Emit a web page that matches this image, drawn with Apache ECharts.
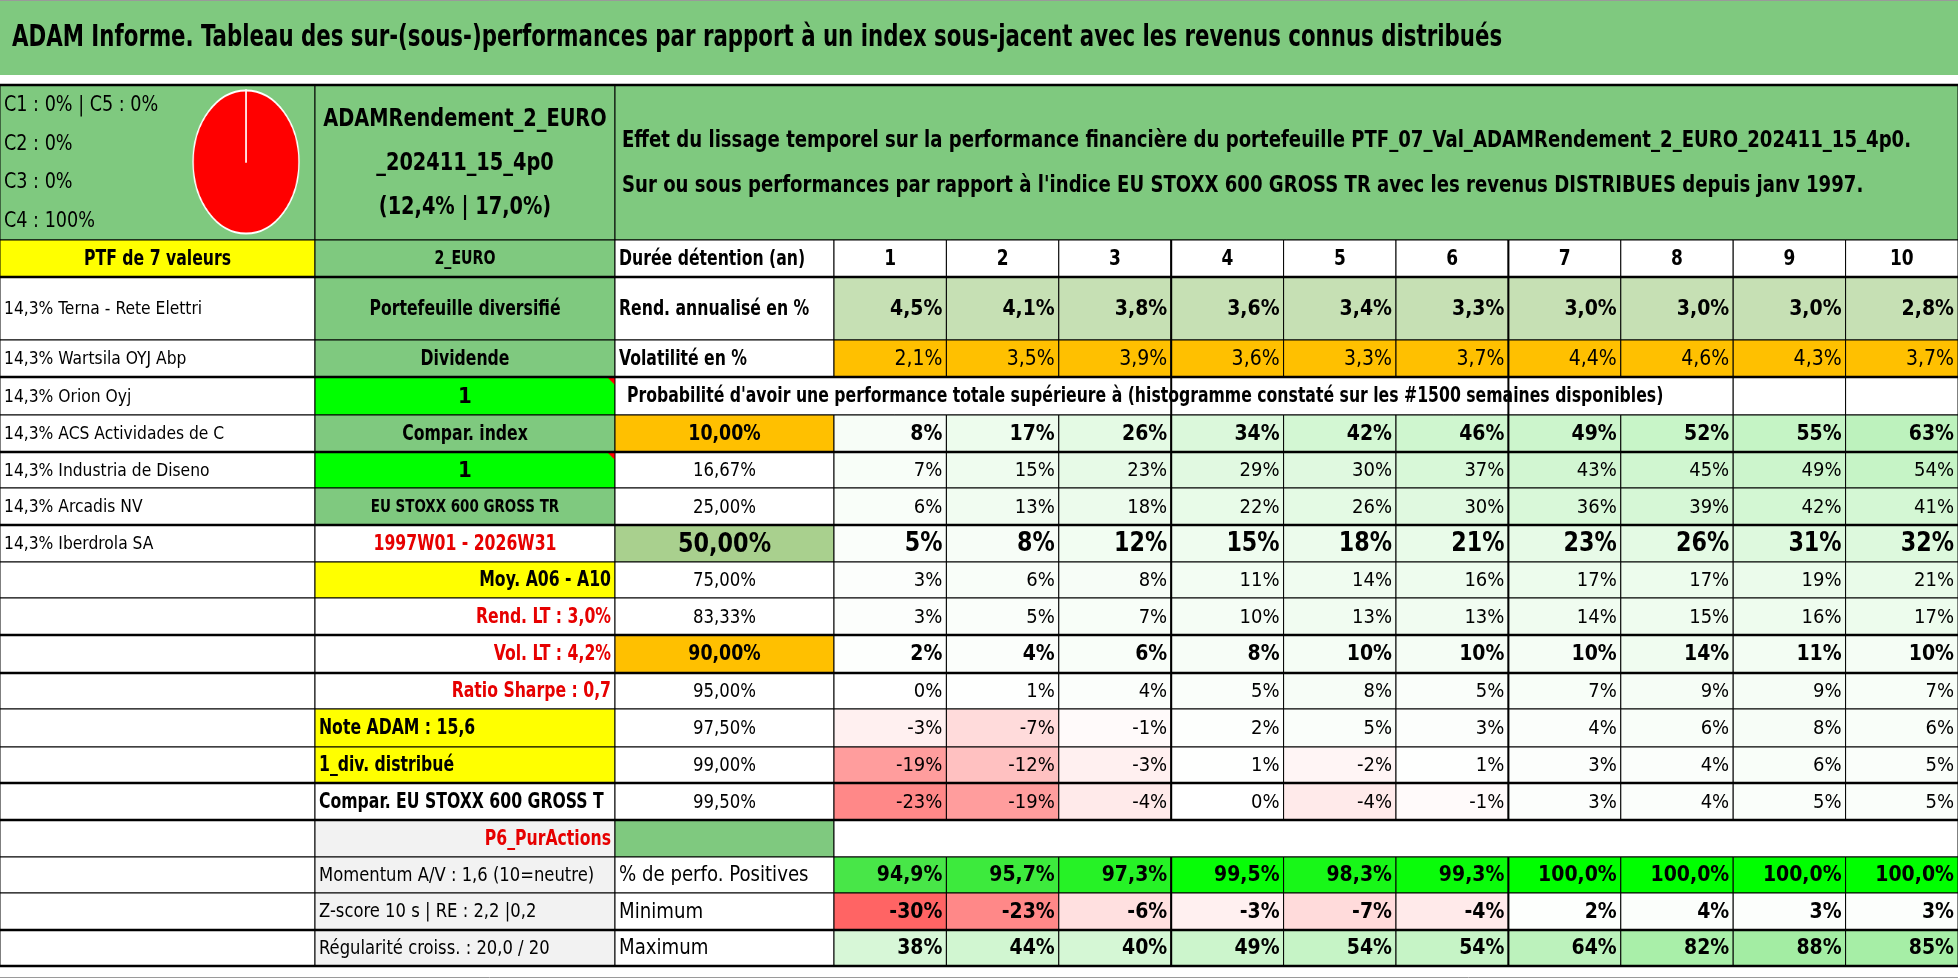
<!DOCTYPE html>
<html>
<head>
<meta charset="utf-8">
<title>ADAM Informe</title>
<script src="https://cdn.jsdelivr.net/npm/echarts@6/dist/echarts.min.js"></script>
<style>
html, body { margin: 0; padding: 0; background: #fff; }
#main { width: 1958px; height: 979px; position: absolute; left: 0; top: 0; }
#pie { position: absolute; width: 146px; height: 146px; left: 173px; top: 89px;
       transform: scaleX(0.74); transform-origin: 50% 50%; }
</style>
</head>
<body>
<div id="main"></div>
<div id="pie"></div>
<script>
// ---- donnees ----
var titre = 'ADAM Informe. Tableau des sur-(sous-)performances par rapport à un index sous-jacent avec les revenus connus distribués';
var pieLabels = ['C1', 'C2', 'C3', 'C4', 'C5'];
var pieValues = [0, 0, 0, 100, 0];
var nomPortefeuille = ['ADAMRendement_2_EURO', '_202411_15_4p0', '(12,4% | 17,0%)'];
var descriptif = [
    'Effet du lissage temporel sur la performance financière du portefeuille PTF_07_Val_ADAMRendement_2_EURO_202411_15_4p0.',
    "Sur ou sous performances par rapport à l'indice EU STOXX 600 GROSS TR avec les revenus DISTRIBUES depuis janv 1997."
];
var enteteValeurs = 'PTF de 7 valeurs';
var valeurs = ['14,3% Terna - Rete Elettri', '14,3% Wartsila OYJ Abp', '14,3% Orion Oyj',
    '14,3% ACS Actividades de C', '14,3% Industria de Diseno', '14,3% Arcadis NV', '14,3% Iberdrola SA'];
var infosB = ['2_EURO', 'Portefeuille diversifié', 'Dividende', '1', 'Compar. index', '1',
    'EU STOXX 600 GROSS TR', '1997W01 - 2026W31', 'Moy. A06 - A10', 'Rend. LT : 3,0%',
    'Vol. LT : 4,2%', 'Ratio Sharpe : 0,7', 'Note ADAM : 15,6', '1_div. distribué',
    'Compar. EU STOXX 600 GROSS TR', 'P6_PurActions', 'Momentum A/V : 1,6 (10=neutre)',
    'Z-score 10 s | RE : 2,2 |0,2', 'Régularité croiss. : 20,0 / 20'];
var libelleDuree = 'Durée détention (an)';
var durees = ['1', '2', '3', '4', '5', '6', '7', '8', '9', '10'];
var libelleRend = 'Rend. annualisé en %';
var rendAnnualise = [4.5, 4.1, 3.8, 3.6, 3.4, 3.3, 3.0, 3.0, 3.0, 2.8];
var libelleVol = 'Volatilité en %';
var volatilite = [2.1, 3.5, 3.9, 3.6, 3.3, 3.7, 4.4, 4.6, 4.3, 3.7];
var libelleProba = "Probabilité d'avoir une performance totale supérieure à (histogramme constaté sur les #1500 semaines disponibles)";
var seuils = ['10,00%', '16,67%', '25,00%', '50,00%', '75,00%', '83,33%', '90,00%', '95,00%', '97,50%', '99,00%', '99,50%'];
var probas = [
    [8, 17, 26, 34, 42, 46, 49, 52, 55, 63],
    [7, 15, 23, 29, 30, 37, 43, 45, 49, 54],
    [6, 13, 18, 22, 26, 30, 36, 39, 42, 41],
    [5, 8, 12, 15, 18, 21, 23, 26, 31, 32],
    [3, 6, 8, 11, 14, 16, 17, 17, 19, 21],
    [3, 5, 7, 10, 13, 13, 14, 15, 16, 17],
    [2, 4, 6, 8, 10, 10, 10, 14, 11, 10],
    [0, 1, 4, 5, 8, 5, 7, 9, 9, 7],
    [-3, -7, -1, 2, 5, 3, 4, 6, 8, 6],
    [-19, -12, -3, 1, -2, 1, 3, 4, 6, 5],
    [-23, -19, -4, 0, -4, -1, 3, 4, 5, 5]
];
var libelleStats = ['% de perfo. Positives', 'Minimum', 'Maximum'];
var perfPositives = [94.9, 95.7, 97.3, 99.5, 98.3, 99.3, 100.0, 100.0, 100.0, 100.0];
var minimum = [-30, -23, -6, -3, -7, -4, 2, 4, 3, 3];
var maximum = [38, 44, 40, 49, 54, 54, 64, 82, 88, 85];

// ---- mise en page ----
var W = 1958, H = 979;
var FF = '"DejaVu Sans Condensed", "DejaVu Sans", sans-serif';
var VERT = '#7fc97f', JAUNE = '#ffff00', FLUO = '#00ff00', ORANGE = '#ffc000';
var ROUGE = '#e60000', GRIS = '#f2f2f2';
var colEdges = [0, 315, 615, 834];
for (var i = 1; i <= 10; i++) colEdges.push(834 + i * 112.4);
var rowEdges = [85, 240, 277, 340, 377, 415, 452, 488, 525, 562, 598, 635, 673, 709, 747, 783, 820, 857, 893, 930, 966];
var thickRows = [0, 2, 4, 6, 8, 11, 12, 15, 16, 19, 20];

function pct1(v) { return v.toFixed(1).replace('.', ',') + '%'; }
function pct0(v) { return Math.round(v) + '%'; }
function mix(a, b, t) {
    t = Math.max(0, Math.min(1, t));
    return 'rgb(' + [0, 1, 2].map(function (k) { return Math.round(a[k] + (b[k] - a[k]) * t); }).join(',') + ')';
}
function couleurProba(v) {
    if (v < 0) return mix([255, 255, 255], [255, 100, 100], -v / 30);
    return mix([255, 255, 255], [150, 235, 150], v / 100);
}
function couleurPositif(v) { return mix([85, 225, 85], [0, 255, 0], (v - 94) / 6); }

var cells = [];
function cell(c0, c1, r0, r1, o) {
    o.x0 = colEdges[c0]; o.x1 = colEdges[c1];
    o.y0 = rowEdges[r0]; o.y1 = rowEdges[r1];
    cells.push(o);
}

// bandeau titre
cells.push({ x0: 0, x1: W, y0: 0, y1: 75, bg: VERT, noStroke: true, text: titre,
    align: 'left', size: 30, bold: true, pad: 12, sx: 0.79 });

// ligne d'entete
cell(0, 1, 0, 1, { bg: VERT, align: 'left', size: 22, lh: 38.5, sx: 0.89,
    text: [pieLabels[0] + ' : ' + pieValues[0] + '% | ' + pieLabels[4] + ' : ' + pieValues[4] + '%',
        pieLabels[1] + ' : ' + pieValues[1] + '%', pieLabels[2] + ' : ' + pieValues[2] + '%',
        pieLabels[3] + ' : ' + pieValues[3] + '%'].join('\n') });
cell(1, 2, 0, 1, { bg: VERT, size: 25, bold: true, lh: 44, sx: 0.86, text: nomPortefeuille.join('\n') });
cell(2, 13, 0, 1, { bg: VERT, align: 'left', size: 23, bold: true, lh: 45, pad: 7, sx: 0.875, text: descriptif.join('\n') });

// colonne A
cell(0, 1, 1, 2, { bg: JAUNE, bold: true, size: 21, text: enteteValeurs });
for (var r = 2; r <= 19; r++) {
    var nom = valeurs[r - 2];
    cell(0, 1, r, r + 1, nom ? { align: 'left', size: 18, text: nom } : {});
}

// colonne B
var stylesB = [
    { bg: VERT, size: 19, bold: true }, { bg: VERT, size: 21, bold: true }, { bg: VERT, size: 21, bold: true },
    { bg: FLUO, size: 22, bold: true, note: true, sx: 1 }, { bg: VERT, size: 21, bold: true },
    { bg: FLUO, size: 22, bold: true, note: true, sx: 1 }, { bg: VERT, size: 18, bold: true },
    { color: ROUGE, size: 21, bold: true }, { bg: JAUNE, size: 21, bold: true, align: 'right' },
    { color: ROUGE, size: 21, bold: true, align: 'right' }, { color: ROUGE, size: 21, bold: true, align: 'right' },
    { color: ROUGE, size: 21, bold: true, align: 'right' }, { bg: JAUNE, size: 21, bold: true, align: 'left' },
    { bg: JAUNE, size: 21, bold: true, align: 'left' }, { size: 21, bold: true, align: 'left', clip: true },
    { bg: GRIS, color: ROUGE, size: 21, bold: true, align: 'right' }, { bg: GRIS, size: 19, align: 'left' },
    { bg: GRIS, size: 19, align: 'left' }, { bg: GRIS, size: 19, align: 'left' }
];
infosB.forEach(function (t, k) {
    var s = Object.assign({ text: t }, stylesB[k]);
    cell(1, 2, k + 1, k + 2, s);
});

// durees
cell(2, 3, 1, 2, { align: 'left', size: 21, bold: true, text: libelleDuree });
durees.forEach(function (d, j) { cell(3 + j, 4 + j, 1, 2, { size: 21, bold: true, sx: 0.9, text: d }); });
// rendement
cell(2, 3, 2, 3, { align: 'left', size: 21, bold: true, text: libelleRend });
rendAnnualise.forEach(function (v, j) {
    cell(3 + j, 4 + j, 2, 3, { bg: '#c6e0b4', align: 'right', size: 21, bold: true, sx: 1, text: pct1(v) });
});
// volatilite
cell(2, 3, 3, 4, { align: 'left', size: 21, bold: true, text: libelleVol });
volatilite.forEach(function (v, j) {
    cell(3 + j, 4 + j, 3, 4, { bg: ORANGE, align: 'right', size: 21, sx: 1, text: pct1(v) });
});
// probabilites
cell(2, 11, 4, 5, { align: 'left', size: 21, bold: true, pad: 12, text: libelleProba });
cell(11, 12, 4, 5, {});
cell(12, 13, 4, 5, {});
seuils.forEach(function (s, k) {
    var r = 5 + k;
    var fort = (k === 0 || k === 6), grand = (k === 3);
    var bgC = fort ? ORANGE : (grand ? '#a9d08e' : null);
    cell(2, 3, r, r + 1, { bg: bgC, size: grand ? 27 : (fort ? 21 : 20), bold: fort || grand, sx: 0.92, text: s });
    probas[k].forEach(function (v, j) {
        cell(3 + j, 4 + j, r, r + 1, { bg: couleurProba(v), align: 'right', sx: grand ? 0.95 : 1,
            size: grand ? 26 : (fort ? 21 : 20), bold: fort || grand, text: pct0(v) });
    });
});
// bloc P6
cell(2, 3, 16, 17, { bg: VERT });
cell(3, 13, 16, 17, {});
// statistiques
[perfPositives, minimum, maximum].forEach(function (serie, k) {
    var r = 17 + k;
    cell(2, 3, r, r + 1, { align: 'left', size: 21, text: libelleStats[k] });
    serie.forEach(function (v, j) {
        cell(3 + j, 4 + j, r, r + 1, { bg: k === 0 ? couleurPositif(v) : couleurProba(v),
            align: 'right', size: 21, bold: true, sx: 1, text: k === 0 ? pct1(v) : pct0(v) });
    });
});

// traits epais
var traits = [];
thickRows.forEach(function (r) { traits.push([0, rowEdges[r], W, rowEdges[r], 2.5, '#000']); });
[6, 9].forEach(function (c) {
    traits.push([colEdges[c], rowEdges[1], colEdges[c], rowEdges[16], 2, '#000']);
    traits.push([colEdges[c], rowEdges[17], colEdges[c], rowEdges[20], 2, '#000']);
});
traits.push([0, 0.5, W, 0.5, 1, '#9a9a9a']);
traits.push([0, 977.5, W, 977.5, 1, '#9a9a9a']);

function renderCell(params, api) {
    var c = cells[params.dataIndex];
    var p0 = api.coord([api.value(0), api.value(1)]);
    var p1 = api.coord([api.value(2), api.value(3)]);
    var x = p0[0], y = p0[1], w = p1[0] - p0[0], h = p1[1] - p0[1];
    var children = [{
        type: 'rect', shape: { x: x, y: y, width: w, height: h },
        style: { fill: c.bg || '#fff', stroke: c.noStroke ? null : '#000', lineWidth: 1 }
    }];
    if (c.text) {
        var pad = c.pad || 4;
        var align = c.align || 'center';
        var sx = c.sx || (c.bold ? 0.83 : 0.96);
        var tx = align === 'left' ? x + pad : (align === 'right' ? x + w - pad : x + w / 2);
        var st = {
            text: c.text, fill: c.color || '#000', fontSize: c.size || 20, fontFamily: FF,
            fontWeight: c.bold ? 'bold' : 'normal', align: align, verticalAlign: 'middle',
            lineHeight: c.lh || Math.round((c.size || 20) * 1.2)
        };
        if (c.clip) { st.width = (w - pad - 1) / sx; st.overflow = 'truncate'; st.ellipsis = ''; }
        children.push({ type: 'text', x: tx, y: y + h / 2 + 1, scaleX: sx, style: st });
    }
    if (c.note) {
        children.push({ type: 'polygon',
            shape: { points: [[x + w - 8, y], [x + w, y], [x + w, y + 8]] }, style: { fill: '#ff0000' } });
    }
    return { type: 'group', children: children };
}

function renderTrait(params, api) {
    var t = traits[params.dataIndex];
    var a = api.coord([api.value(0), api.value(1)]);
    var b = api.coord([api.value(2), api.value(3)]);
    return { type: 'line', shape: { x1: a[0], y1: a[1], x2: b[0], y2: b[1] },
        style: { stroke: t[5], lineWidth: t[4] } };
}

var myChart = echarts.init(document.getElementById('main'));
var option = {
    animation: false,
    grid: { left: 0, right: 0, top: 0, bottom: 0 },
    xAxis: { type: 'value', min: 0, max: W, show: false },
    yAxis: { type: 'value', min: 0, max: H, inverse: true, show: false },
    series: [
        {
            type: 'custom', name: 'cellules', silent: true, clip: false,
            renderItem: renderCell,
            data: cells.map(function (c) { return [c.x0, c.y0, c.x1, c.y1]; })
        },
        {
            type: 'custom', name: 'traits', silent: true, clip: false,
            renderItem: renderTrait,
            data: traits.map(function (t) { return [t[0], t[1], t[2], t[3]]; })
        }
    ]
};
myChart.setOption(option, true);

// camembert (etire en ellipse comme dans Excel)
var pieChart = echarts.init(document.getElementById('pie'));
pieChart.setOption({
    animation: false,
    color: ['#4472c4', '#ed7d31', '#a5a5a5', '#ff0000', '#5b9bd5'],
    series: [{
        type: 'pie', radius: [0, '98%'], center: ['50%', '50%'],
        startAngle: 90, clockwise: true, silent: true,
        label: { show: false }, labelLine: { show: false },
        itemStyle: { borderColor: '#fff', borderWidth: 2 },
        data: pieLabels.map(function (n, k) { return { name: n, value: pieValues[k] }; })
    }]
});
</script>
</body>
</html>
